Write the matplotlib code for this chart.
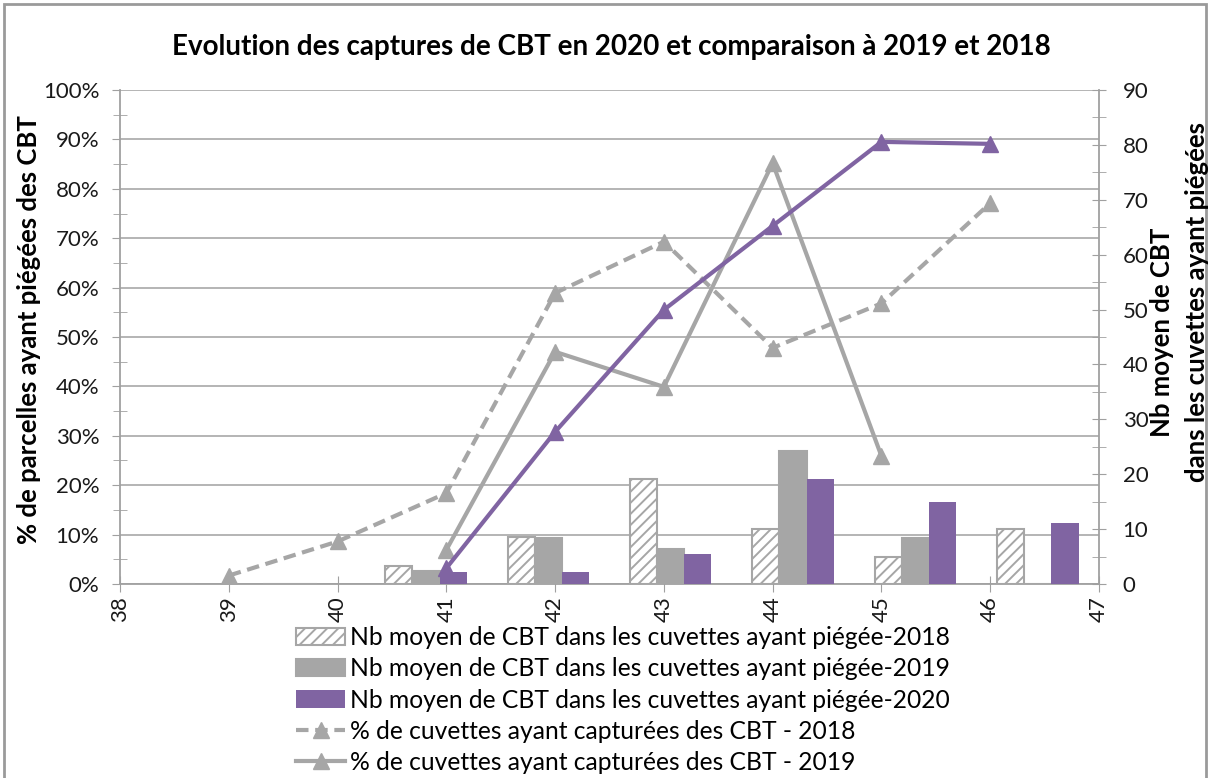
import numpy as np
import matplotlib
matplotlib.use("Agg")
import matplotlib.pyplot as plt
from matplotlib.ticker import MultipleLocator, PercentFormatter
from matplotlib.patches import Rectangle

plt.rcParams['font.family'] = ['Lato', 'DejaVu Sans']
plt.rcParams['hatch.linewidth'] = 1.4

# semaines (axe des lignes)
weeks = [39, 40, 41, 42, 43, 44, 45, 46]

# % de cuvettes ayant capturé des CBT
pct_2018 = [0.017, 0.086, 0.184, 0.589, 0.693, 0.478, 0.568, 0.771]
pct_2019 = [None, None, 0.069, 0.470, 0.399, 0.852, 0.259, None]
pct_2020 = [None, None, 0.032, 0.308, 0.555, 0.725, 0.895, 0.891]

# Nb moyen de CBT dans les cuvettes ayant piégé
nb_2018 = [0, 0, 3.2, 8.6, 19.1, 10.0, 5.0, 10.1]
nb_2019 = [0, 0, 2.3, 8.3, 6.3, 24.3, 8.4, 0]
nb_2020 = [0, 0, 2.1, 2.2, 5.5, 19.2, 15.0, 11.1]

grey = '#A6A6A6'
purple = '#8064A2'
axcol = '#A0A0A0'

def clean(v):
    return np.array([np.nan if x is None else x for x in v], dtype=float)

fig = plt.figure(figsize=(12.15, 7.78), dpi=100)
rect = [0.0988, 0.2494, 0.8057, 0.6349]

# axe principal (%)
ax = fig.add_axes(rect)
ax.set_xlim(38, 47)
ax.set_ylim(0, 1)
ax.yaxis.set_major_locator(MultipleLocator(0.1))
ax.yaxis.set_minor_locator(MultipleLocator(0.05))
ax.yaxis.set_major_formatter(PercentFormatter(1.0, decimals=0))
ax.xaxis.set_major_locator(MultipleLocator(1))
ax.grid(axis='y', color=axcol, lw=1.1)
ax.set_axisbelow(True)
for s in ['top', 'right']:
    ax.spines[s].set_visible(False)
for s in ['left', 'bottom']:
    ax.spines[s].set_color(axcol)
    ax.spines[s].set_linewidth(1.3)
ax.tick_params(axis='y', which='major', direction='out', length=6, color=axcol,
               labelsize=16, labelcolor='#1a1a1a', pad=9)
ax.tick_params(axis='y', which='minor', direction='inout', length=10, color=axcol)
ax.tick_params(axis='x', direction='inout', length=12, color=axcol,
               labelsize=16, labelrotation=90, labelcolor='#1a1a1a', pad=3)

# axe secondaire (nombre)
axr = ax.twinx()
axr.set_ylim(0, 90)
axr.yaxis.set_major_locator(MultipleLocator(10))
axr.yaxis.set_minor_locator(MultipleLocator(5))
for s in ['top', 'left', 'bottom']:
    axr.spines[s].set_visible(False)
axr.spines['right'].set_color(axcol)
axr.spines['right'].set_linewidth(1.3)
axr.tick_params(axis='y', which='both', direction='inout', length=10, color=axcol,
                labelsize=16, labelcolor='#1a1a1a', pad=12)
axr.tick_params(axis='y', which='minor', labelright=False)

# axe des barres (categories 39..46)
axb = axr.twiny()
idx = np.arange(len(weeks))
axb.set_xlim(-0.5, len(weeks) - 0.5)
axb.set_xticks([])
for s in axb.spines.values():
    s.set_visible(False)
w = 0.667 / 3
b1 = axb.bar(idx - w, nb_2018, w, color='white', edgecolor=grey, hatch='///', lw=1.5)
b2 = axb.bar(idx, nb_2019, w, color=grey, edgecolor=grey, lw=1.5)
b3 = axb.bar(idx + w, nb_2020, w, color=purple, edgecolor=purple, lw=0)

# lignes au premier plan
axl = fig.add_axes(rect, sharex=ax, sharey=ax, frameon=False)
axl.tick_params(which='both', left=False, bottom=False, labelleft=False, labelbottom=False)
l1, = axl.plot(weeks, clean(pct_2018), color=grey, lw=3, ls=(0, (3, 1.6)),
               marker='^', ms=12, label='% de cuvettes ayant capturées des CBT - 2018')
l2, = axl.plot(weeks, clean(pct_2019), color=grey, lw=3, marker='^', ms=12,
               label='% de cuvettes ayant capturées des CBT - 2019')
l3, = axl.plot(weeks, clean(pct_2020), color=purple, lw=3, marker='^', ms=12,
               label='% de cuvettes ayant capturées des CBT - 2020')

fig.text(0.503, 0.94, 'Evolution des captures de CBT en 2020 et comparaison à 2019 et 2018',
         ha='center', va='center', fontsize=20, fontweight='bold')
fig.text(0.024, 0.577, '% de parcelles ayant piégées des CBT', rotation=90,
         ha='center', va='center', fontsize=18.5, fontweight='bold')
fig.text(0.956, 0.573, 'Nb moyen de CBT', rotation=90,
         ha='center', va='center', fontsize=18.5, fontweight='bold')
fig.text(0.985, 0.612, 'dans les cuvettes ayant piégées', rotation=90,
         ha='center', va='center', fontsize=18.5, fontweight='bold')

fig.legend([b1, b2, b3, l1, l2],
           ['Nb moyen de CBT dans les cuvettes ayant piégée-2018',
            'Nb moyen de CBT dans les cuvettes ayant piégée-2019',
            'Nb moyen de CBT dans les cuvettes ayant piégée-2020',
            '% de cuvettes ayant capturées des CBT - 2018',
            '% de cuvettes ayant capturées des CBT - 2019'],
           loc='upper left', bbox_to_anchor=(0.2436, 0.195), frameon=False,
           fontsize=17.7, handlelength=2.0, handletextpad=0.2, labelspacing=0.33,
           borderpad=0, borderaxespad=0)

fig.patches.append(Rectangle((0.003, -0.01), 0.99, 1.005, transform=fig.transFigure,
                             fill=False, edgecolor='#9a9a9a', lw=2))

fig.savefig('out.png', dpi=100)
